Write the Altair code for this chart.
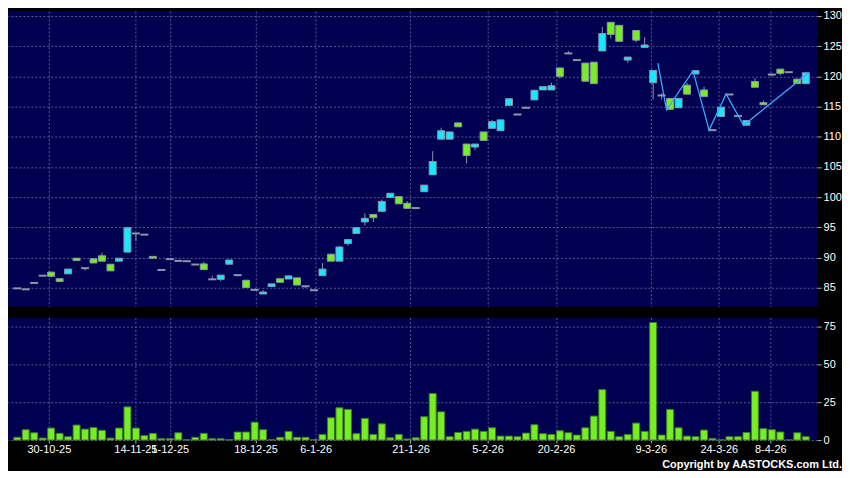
import altair as alt
import pandas as pd

# ---------------- data ----------------
opens = [84.9, 84.75, 85.8, 87.0, 87.6, 86.5, 87.3, 89.9, 88.25, 89.8,
         90.3, 88.9, 89.4, 90.9, 94.0, 93.8, 90.2, 87.95, 89.75, 89.45,
         89.4, 88.85, 88.95, 86.4, 86.4, 88.9, 87.1, 86.25, 84.65, 83.97,
         85.2, 86.5, 86.45, 86.65, 85.25, 84.6, 87.0, 90.55, 89.4, 92.3,
         94.0, 95.9, 97.15, 97.65, 99.95, 100.1, 99.0, 98.2, 100.9, 103.7,
         109.6, 109.6, 112.3, 108.8, 108.3, 110.8, 111.4, 111.0, 115.2, 113.7,
         114.8, 116.1, 117.75, 117.75, 121.4, 123.8, 122.7, 122.2, 122.35, 124.2,
         128.95, 128.45, 122.7, 127.6, 124.8, 118.95, 116.85, 116.35, 114.8, 118.55,
         120.4, 117.75, 111.1, 113.35, 117.0, 113.45, 111.9, 119.15, 115.65, 120.3,
         121.2, 120.7, 119.55, 118.8]
highs = [84.9, 84.75, 85.8, 87.0, 87.6, 86.5, 88.1, 89.9, 88.25, 89.8,
         90.8, 88.9, 89.9, 94.95, 94.0, 93.8, 90.2, 87.95, 89.75, 89.45,
         89.4, 88.85, 89.3, 87.0, 87.1, 89.6, 87.1, 86.25, 84.65, 84.6,
         85.65, 86.5, 86.97, 86.65, 85.25, 84.6, 89.1, 90.7, 91.9, 93.0,
         95.1, 97.35, 97.15, 99.6, 100.65, 100.1, 99.35, 98.2, 102.0, 107.6,
         111.5, 110.8, 112.3, 108.8, 108.8, 110.8, 112.8, 112.8, 116.3, 113.7,
         114.8, 117.7, 118.3, 118.95, 121.4, 124.2, 122.7, 122.2, 122.35, 128.2,
         128.95, 128.45, 123.2, 127.6, 126.5, 121.0, 117.2, 116.35, 116.35, 118.95,
         120.95, 118.3, 111.1, 114.9, 117.0, 113.45, 112.7, 119.7, 116.0, 120.5,
         121.2, 120.7, 119.55, 120.6]
lows = [84.9, 84.75, 85.8, 87.0, 86.7, 85.9, 87.3, 89.5, 87.85, 89.1,
        89.4, 87.8, 89.4, 90.9, 92.75, 93.8, 89.9, 87.95, 89.75, 89.45,
        89.4, 88.85, 88.0, 86.4, 86.05, 88.9, 86.9, 85.05, 84.65, 83.97,
        85.2, 85.9, 86.45, 85.45, 85.0, 84.6, 87.0, 89.4, 89.4, 92.0,
        94.0, 95.3, 95.9, 97.65, 99.95, 98.9, 98.15, 98.2, 100.9, 103.7,
        109.6, 109.6, 111.65, 105.6, 107.8, 109.4, 111.4, 111.0, 115.2, 113.7,
        114.8, 116.1, 117.75, 117.75, 119.65, 123.8, 122.7, 119.2, 118.8, 124.2,
        126.25, 125.8, 122.3, 125.65, 124.8, 116.2, 116.2, 114.55, 114.8, 117.05,
        120.4, 116.65, 111.1, 113.35, 117.0, 113.45, 111.9, 118.2, 115.3, 120.1,
        120.2, 120.7, 118.8, 118.8]
closes = [84.9, 84.75, 85.8, 87.0, 86.9, 86.05, 88.1, 89.5, 88.25, 89.1,
          89.4, 87.8, 89.9, 94.95, 94.0, 93.8, 89.9, 87.95, 89.75, 89.45,
          89.4, 88.85, 88.0, 86.4, 87.1, 89.6, 87.1, 85.05, 84.65, 84.3,
          85.65, 85.9, 86.97, 85.45, 85.25, 84.6, 88.1, 89.4, 91.75, 93.0,
          94.95, 96.5, 96.6, 99.3, 100.65, 98.9, 98.15, 98.2, 102.0, 105.9,
          111.0, 110.8, 111.65, 106.9, 108.8, 109.4, 112.5, 112.8, 116.3, 113.7,
          114.8, 117.7, 118.3, 118.45, 120.0, 123.8, 122.7, 119.2, 118.8, 127.1,
          126.95, 125.8, 123.2, 126.0, 125.2, 121.0, 116.85, 114.55, 116.35, 117.05,
          120.95, 116.65, 111.1, 114.9, 117.0, 113.45, 112.7, 118.2, 115.3, 120.3,
          120.5, 120.7, 118.8, 120.6]
volumes = [1.8, 6.8, 4.8, 1.3, 7.9, 4.4, 2.2, 9.9, 7.2, 8.3,
           6.4, 1.3, 7.9, 21.9, 7.9, 2.9, 4.4, 0.9, 0.9, 4.8,
           0.2, 1.8, 4.4, 0.9, 0.9, 0.2, 5.3, 5.3, 11.8, 6.8,
           0.2, 1.8, 5.7, 1.8, 1.8, 0.2, 3.7, 14.7, 21.3, 20.2,
           4.2, 14.3, 3.7, 10.7, 1.5, 3.7, 0.7, 1.5, 15.4, 30.7,
           18.6, 2.2, 5.0, 5.7, 7.2, 5.7, 8.1, 2.6, 2.6, 2.2,
           4.6, 10.1, 4.2, 3.7, 6.1, 4.8, 3.3, 8.1, 15.8, 33.3,
           5.7, 2.2, 3.7, 11.2, 5.7, 77.6, 3.3, 20.2, 8.1, 2.6,
           2.2, 6.6, 1.1, 0.1, 2.2, 2.2, 5.0, 32.2, 7.5, 6.8,
           5.3, 0.1, 4.8, 2.2]

# zig-zag overlay line (x in bar-slot units, price)
line_x = [75.55, 76.58, 79.7, 81.6, 83.6, 85.66, 93.36]
line_y = [122.2, 114.45, 120.9, 111.1, 117.1, 111.9, 120.6]

tick_pos = [3.73, 13.93, 17.99, 28.11, 35.2, 46.39, 55.46, 63.55, 74.71, 82.74, 88.82]
tick_labels = ["30-10-25", "14-11-25", "1-12-25", "18-12-25", "6-1-26", "21-1-26",
               "5-2-26", "20-2-26", "9-3-26", "24-3-26", "8-4-26"]
price_ticks = [85, 90, 95, 100, 105, 110, 115, 120, 125, 130]
vol_ticks = [0, 25, 50, 75]
copyright_text = "Copyright by AASTOCKS.com Ltd."

# ---------------- styling ----------------
NAVY = "#000050"
CYAN = "#19e6ff"
GREEN = "#77ee22"
GRAY = "#8c96aa"
VSTROKE = "#3f7a2a"
BLUE = "#3aa6ff"
FONT = "Liberation Sans"

n = len(opens)
df = pd.DataFrame({"i": list(range(n)), "open": opens, "high": highs, "low": lows,
                   "close": closes, "vol": volumes})
df["kind"] = ["up" if c > o else ("down" if c < o else "flat") for o, c in zip(opens, closes)]
line_df = pd.DataFrame({"i": line_x, "p": line_y, "k": list(range(len(line_x)))})

xscale = alt.Scale(domain=[-0.5, 93.75], nice=False, zero=False)
pscale = alt.Scale(domain=[81.87, 130.81], nice=False, zero=False)
vscale = alt.Scale(domain=[0, 80.8], nice=False, zero=True)

label_expr = "[" + ",".join("'%s'" % s for s in tick_labels) + "][indexof([" + \
    ",".join(str(v) for v in tick_pos) + "], datum.value)]"

x_top_axis = alt.Axis(values=tick_pos, labels=False, ticks=False, domain=False,
                      grid=True, title=None)
y_top_axis = alt.Axis(orient="right", values=price_ticks, grid=True, tickSize=4,
                      labelPadding=2, domain=False, title=None, labelOverlap=False)

base = alt.Chart(df)
wick = base.mark_rule(color=GRAY, strokeWidth=1).encode(
    x=alt.X("i:Q", scale=xscale, axis=x_top_axis),
    y=alt.Y("low:Q", scale=pscale, axis=y_top_axis), y2="high:Q")
body = base.transform_filter("datum.kind != 'flat'").mark_bar(
    width=7, stroke=GRAY, strokeWidth=1).encode(
    x=alt.X("i:Q", scale=xscale, axis=x_top_axis),
    y=alt.Y("open:Q", scale=pscale, axis=y_top_axis), y2="close:Q",
    color=alt.Color("kind:N", scale=alt.Scale(domain=["up", "down"], range=[CYAN, GREEN]),
                    legend=None))
doji = base.transform_filter("datum.kind == 'flat'").mark_tick(
    orient="horizontal", size=8, thickness=2, color=GRAY, opacity=1).encode(
    x=alt.X("i:Q", scale=xscale, axis=x_top_axis),
    y=alt.Y("close:Q", scale=pscale, axis=y_top_axis))
zig = alt.Chart(line_df).mark_line(color=BLUE, strokeWidth=1.3).encode(
    x=alt.X("i:Q", scale=xscale, axis=x_top_axis),
    y=alt.Y("p:Q", scale=pscale, axis=y_top_axis), order="k:Q")

top = alt.layer(wick, body, doji, zig).properties(width=813, height=297)

x_bot = alt.X("i:Q", scale=xscale,
              axis=alt.Axis(values=tick_pos, labelExpr=label_expr, grid=True, tickSize=3,
                            labelPadding=1, domain=False, title=None, labelOverlap=False,
                            labelFlush=False))
vbar = alt.Chart(df).mark_bar(width=7, fill=GREEN, stroke=VSTROKE, strokeWidth=1).encode(
    x=x_bot,
    y=alt.Y("vol:Q", scale=vscale,
            axis=alt.Axis(orient="right", values=vol_ticks, grid=True, tickSize=4,
                          labelPadding=2, domain=False, title=None, labelOverlap=False)))
ctext = alt.Chart(pd.DataFrame({"t": [copyright_text]})).mark_text(
    align="right", baseline="alphabetic", color="#ffffff", font=FONT, fontSize=11,
    fontWeight="bold").encode(text="t:N", x=alt.value(838), y=alt.value(151))

bottom = alt.layer(vbar, ctext).properties(width=813, height=123)

chart = alt.vconcat(top, bottom, spacing=11).properties(
    padding=0, background="#000000"
).configure_view(fill=NAVY, strokeWidth=0).configure_axis(
    labelColor="#ffffff", labelFont=FONT, labelFontSize=11, tickColor="#b0b0b0",
    gridColor="#5a5a96", gridDash=[2, 2], gridWidth=1, labelOverlap=False
)

chart.save("out.html", embed_options={"renderer": "svg", "actions": False})
